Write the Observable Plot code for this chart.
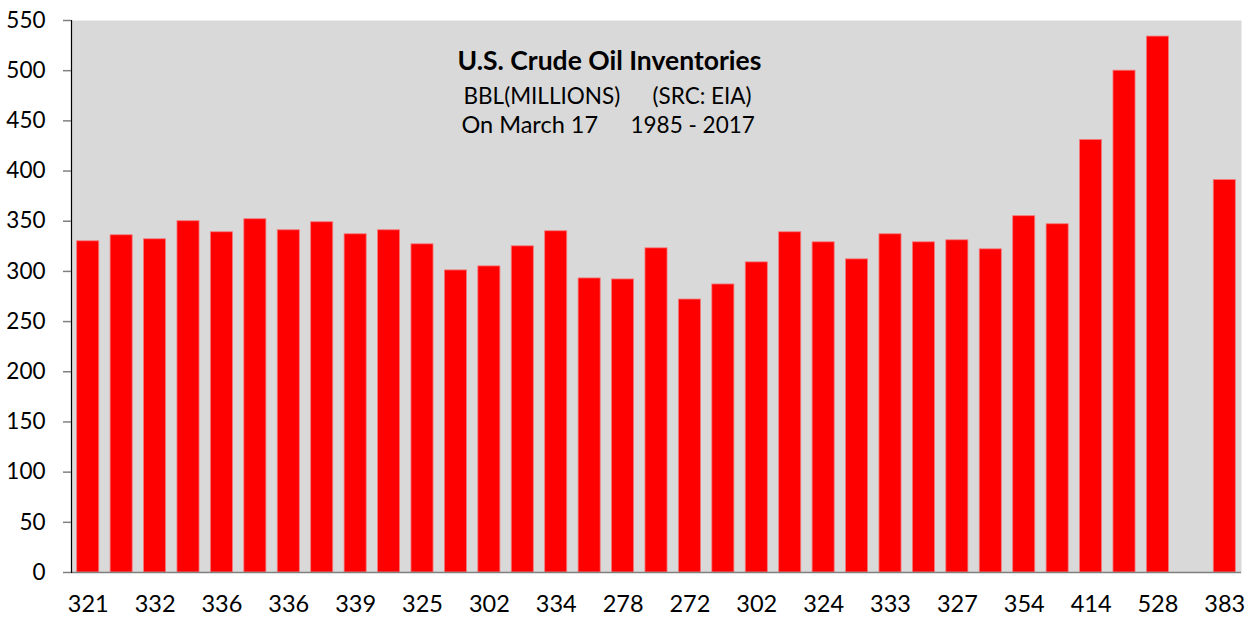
<!DOCTYPE html>
<html>
<head>
<meta charset="utf-8">
<script src="https://cdn.jsdelivr.net/npm/d3@7"></script>
<script src="https://cdn.jsdelivr.net/npm/@observablehq/plot@0.6"></script>
<style>
  html, body { margin: 0; padding: 0; background: #fff; }
  #chart svg { display: block; font-family: Lato, "Open Sans", sans-serif; white-space: pre; }
</style>
</head>
<body>
<div id="chart"></div>
<script>
// Bar values (million barrels), one per slot; null = empty slot
const values = [330, 336, 332, 350, 339, 352, 341, 349, 337, 341,
                327, 301, 305, 325, 340, 293, 292, 323, 272, 287,
                309, 339, 329, 312, 337, 329, 331, 322, 355, 347,
                431, 500, 534, null, 391];
// Category labels shown under every other bar
const xLabels = ["321", "332", "336", "336", "339", "325", "302", "334", "278",
                 "272", "302", "324", "333", "327", "354", "414", "528", "383"];
const yTicks = [0, 50, 100, 150, 200, 250, 300, 350, 400, 450, 500, 550];
const titleText = "U.S. Crude Oil Inventories";
const subLine1 = ["BBL(MILLIONS)", "(SRC: EIA)"];
const subLine2 = ["On March 17", "1985 - 2017"];

const slots = values.map((v, i) => ({i, v}));
const labelSlots = xLabels.map((_, k) => k * 2);

const FS = 22.5;
const ML = 71, MT = 20;

function note(str, left, baseline, extra = {}) {
  return Plot.text([str], {text: d => d, frameAnchor: "top-left", textAnchor: "start", lineAnchor: "bottom",
    dx: left - ML, dy: baseline - MT, fontSize: FS, fill: "black", ...extra});
}

const chart = Plot.plot({
  width: 1245,
  height: 618,
  marginLeft: ML,
  marginRight: 4,
  marginTop: MT,
  marginBottom: 46,
  style: {fontFamily: "Lato, 'Open Sans', sans-serif", color: "black", background: "white"},
  x: {type: "band", domain: d3.range(values.length), paddingInner: 0.34, paddingOuter: 0.17, round: false, axis: null, label: null},
  y: {domain: [0, 550], axis: null, label: null},
  marks: [
    Plot.frame({fill: "#d9d9d9", stroke: "none"}),
    Plot.barY(slots.filter(d => d.v != null), {x: "i", y: "v", fill: "#ff0000", stroke: "#f47a7a", strokeWidth: 0.8}),
    Plot.ruleY([0], {stroke: "#808080", strokeWidth: 1.5}),
    Plot.frame({anchor: "left", stroke: "black", strokeWidth: 1.2}),
    Plot.axisY(yTicks, {tickSize: 8, tickFormat: () => "", stroke: "#808080", strokeWidth: 1.5, label: null}),
    Plot.axisY(yTicks, {tickSize: 0, tickPadding: 26, fontSize: FS, fill: "black", label: null}),
    Plot.axisX(labelSlots, {tickSize: 0, tickPadding: 23, fontSize: 23.5, fill: "black", label: null,
      tickFormat: i => xLabels[i / 2]}),
    note(titleText, 457, 69, {fontWeight: "bold", fontSize: 26.5}),
    note(subLine1[0], 463, 103),
    note(subLine1[1], 652, 103),
    note(subLine2[0], 461, 132, {fontSize: 23.5}),
    note(subLine2[1], 630, 132),
  ]
});
document.getElementById("chart").appendChild(chart);
</script>
</body>
</html>
